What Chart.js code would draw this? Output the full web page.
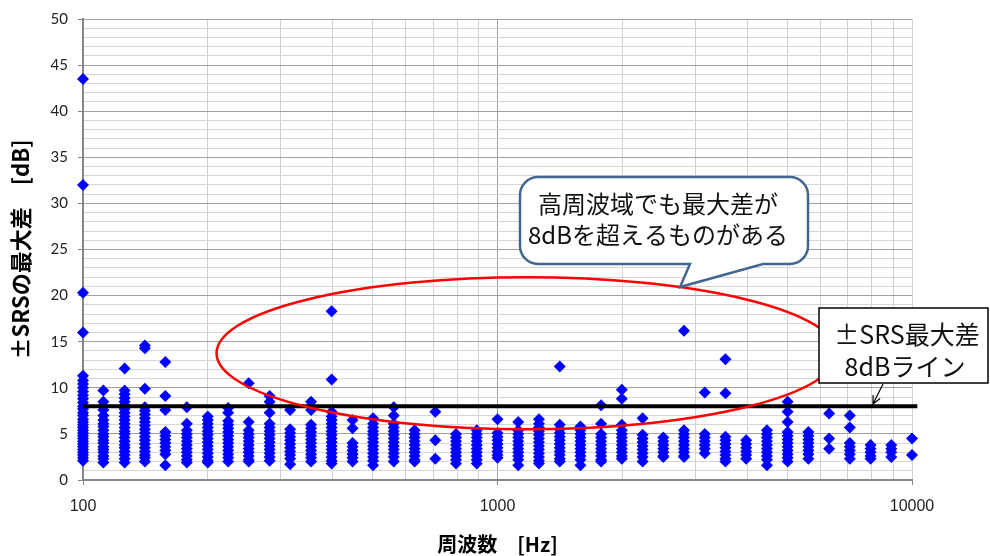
<!DOCTYPE html>
<html>
<head>
<meta charset="utf-8">
<script src="https://cdn.jsdelivr.net/npm/chart.js@4/dist/chart.umd.min.js"></script>
<style>
  html, body { margin: 0; padding: 0; background: #ffffff; }
  #wrap { width: 990px; height: 556px; position: relative; }
  canvas { display: block; }
</style>
</head>
<body>
<div id="wrap"><canvas id="c" width="990" height="556"></canvas></div>
<script>
// 1/6-octave band centre frequencies [Hz]
const bandFreqs = [
  100, 112, 126, 141, 158, 178, 200, 224, 251, 282,
  316, 355, 398, 447, 501, 562, 631, 708, 794, 891,
  1000, 1122, 1259, 1413, 1585, 1778, 1995, 2239, 2512, 2818,
  3162, 3548, 3981, 4467, 5012, 5623, 6310, 7079, 7943, 8913,
  10000
];

// Max ±SRS difference [dB] observed in each band (one entry per band above)
const maxDiffByBand = [
  [43.5, 32.0, 20.3, 16.0, 11.3, 10.8, 10.4, 10.0, 9.6, 9.2, 8.8, 8.4, 8.0, 7.7, 7.3, 7.0, 6.6, 6.3, 6.0, 5.7, 5.4, 5.1, 4.8, 4.5, 4.2, 3.9, 3.6, 3.3, 3.0, 2.7, 2.4, 2.1],
  [9.7, 8.5, 8.0, 7.6, 7.0, 6.5, 6.1, 5.8, 5.4, 5.0, 4.7, 4.3, 4.0, 3.6, 3.3, 3.0, 2.6, 2.3, 1.9],
  [12.1, 9.7, 9.3, 8.9, 8.5, 8.1, 7.7, 7.3, 6.9, 6.5, 6.1, 5.7, 5.3, 5.0, 4.6, 4.2, 3.8, 3.5, 3.1, 2.7, 2.3, 1.9],
  [14.6, 14.3, 9.9, 7.9, 7.5, 7.1, 6.7, 6.3, 5.9, 5.5, 5.1, 4.7, 4.3, 3.9, 3.5, 3.1, 2.7, 2.4, 2.0],
  [12.8, 9.1, 7.6, 5.2, 4.8, 4.4, 4.0, 3.6, 3.2, 2.8, 1.6],
  [7.9, 6.1, 5.4, 5.0, 4.6, 4.2, 3.8, 3.4, 3.0, 2.6, 2.2, 1.9],
  [6.9, 6.5, 6.1, 5.7, 5.3, 4.9, 4.5, 4.1, 3.7, 3.3, 2.9, 2.5, 2.1, 1.9],
  [7.8, 7.3, 6.4, 6.0, 5.6, 5.2, 4.8, 4.4, 4.0, 3.6, 3.2, 2.8, 2.4, 2.0],
  [10.5, 6.3, 5.4, 5.0, 4.6, 4.2, 3.8, 3.4, 3.0, 2.6, 2.2, 2.0],
  [9.1, 8.5, 7.3, 6.1, 5.7, 5.3, 4.9, 4.5, 4.1, 3.7, 3.3, 2.9, 2.5, 2.1],
  [7.6, 5.5, 5.1, 4.7, 4.3, 3.9, 3.5, 3.1, 2.7, 2.3, 1.7],
  [8.5, 7.6, 6.0, 5.6, 5.2, 4.8, 4.4, 4.0, 3.6, 3.2, 2.8, 2.4, 2.0],
  [18.3, 10.9, 7.4, 6.9, 6.5, 6.1, 5.7, 5.3, 4.9, 4.5, 4.1, 3.7, 3.3, 2.9, 2.5, 2.1, 1.8],
  [6.5, 5.6, 4.0, 3.6, 3.2, 2.8, 2.4, 2.0],
  [6.7, 6.1, 5.7, 5.3, 4.9, 4.5, 4.1, 3.7, 3.3, 2.9, 2.5, 2.1, 1.6],
  [7.9, 7.0, 6.1, 5.7, 5.3, 4.9, 4.5, 4.1, 3.7, 3.3, 2.9, 2.5, 2.0],
  [5.4, 5.0, 4.6, 4.2, 3.8, 3.4, 3.0, 2.6, 2.2, 2.0],
  [7.4, 4.3, 2.3],
  [5.0, 4.6, 4.2, 3.8, 3.4, 3.0, 2.6, 2.2, 1.8],
  [5.4, 5.0, 4.6, 4.2, 3.8, 3.4, 3.0, 2.6, 2.2, 1.8],
  [6.6, 5.1, 4.7, 4.3, 3.9, 3.5, 3.1, 2.7, 2.4],
  [6.3, 5.4, 5.0, 4.6, 4.2, 3.8, 3.4, 3.0, 2.6, 2.2, 1.6],
  [6.6, 6.1, 5.7, 5.3, 4.9, 4.5, 4.1, 3.7, 3.3, 2.9, 2.5, 2.1, 1.8],
  [12.3, 6.0, 5.5, 5.1, 4.7, 4.3, 3.9, 3.5, 3.1, 2.7, 2.3, 2.0],
  [5.8, 5.4, 5.0, 4.6, 4.2, 3.8, 3.4, 3.0, 2.6, 2.2, 1.6],
  [8.1, 6.1, 5.0, 4.6, 4.2, 3.8, 3.4, 3.0, 2.6, 2.2, 2.0],
  [9.8, 8.8, 6.0, 5.4, 5.0, 4.6, 4.2, 3.8, 3.4, 3.0, 2.6, 2.3],
  [6.7, 4.9, 4.5, 4.1, 3.7, 3.3, 2.9, 2.5, 2.0],
  [4.6, 4.2, 3.8, 3.4, 3.0, 2.6, 2.5],
  [16.2, 5.4, 5.0, 4.6, 4.2, 3.8, 3.4, 3.0, 2.6, 2.5],
  [9.5, 5.0, 4.6, 4.2, 3.8, 3.4, 2.9],
  [13.1, 9.4, 4.7, 4.3, 3.9, 3.5, 3.1, 2.7, 2.3, 2.0],
  [4.3, 3.9, 3.5, 3.1, 2.7, 2.3],
  [5.4, 5.0, 4.6, 4.2, 3.8, 3.4, 3.0, 2.6, 2.2, 1.6],
  [8.5, 7.4, 6.3, 5.2, 4.8, 4.4, 4.0, 3.6, 3.2, 2.8, 2.4, 2.0],
  [5.2, 4.8, 4.4, 4.0, 3.6, 3.2, 2.8, 2.3],
  [7.2, 4.5, 3.4],
  [7.0, 5.7, 4.0, 3.6, 3.2, 2.8, 2.3],
  [3.8, 3.4, 3.0, 2.6, 2.3],
  [3.8, 3.4, 3.0, 2.5],
  [4.5, 2.7]
];

// ±SRS max-difference limit line
const limitLevel = 8;
const limitFreqRange = [100, 10300];

// Axis labelling
const xTickLabels = [100, 1000, 10000];
const yTickLabels = [0, 5, 10, 15, 20, 25, 30, 35, 40, 45, 50];
const xTitle = '周波数　[Hz]';
const yTitle = '±SRSの最大差　[dB]';

// Callout texts
const noteHighBand = ['高周波域でも最大差が', '8dBを超えるものがある'];
const noteLimit = ['±SRS最大差', '8dBライン'];

// ---- build datasets from the arrays above ----
const scatterPoints = [];
bandFreqs.forEach((f, i) => {
  maxDiffByBand[i].forEach(v => scatterPoints.push({ x: f, y: v }));
});
const limitPoints = limitFreqRange.map(f => ({ x: f, y: limitLevel }));

// log grid positions: 1..9 in each decade
const logGrid = [];
for (let d = 100; d < 10000; d *= 10) {
  for (let m = 1; m <= 9; m++) logGrid.push(m * d);
}
logGrid.push(10000);

const JP = '"Noto Sans CJK JP", "Noto Sans", sans-serif';

// Annotation geometry
const ellipseRange = { fMin: 210, fMax: 6600, dbMin: 5.5, dbMax: 22.0 };
const bubbleBox = { x0: 520, y0: 177, x1: 808, y1: 264, r: 18, tailA: 690, tailB: 763, tipX: 680, tipY: 287 };
const limitBox = { x0: 819, y0: 308, x1: 988, y1: 383 };
const limitArrow = { x0: 883, y0: 384, f: 8050, db: 8.25 };

const annotationPlugin = {
  id: 'notes',
  afterDatasetsDraw(chart) {
    const ctx = chart.ctx;
    const xs = chart.scales.x, ys = chart.scales.y;
    ctx.save();

    // red ellipse around the high-band exceedances
    const ex0 = xs.getPixelForValue(ellipseRange.fMin);
    const ex1 = xs.getPixelForValue(ellipseRange.fMax);
    const ey0 = ys.getPixelForValue(ellipseRange.dbMax);
    const ey1 = ys.getPixelForValue(ellipseRange.dbMin);
    ctx.beginPath();
    ctx.ellipse((ex0 + ex1) / 2, (ey0 + ey1) / 2, (ex1 - ex0) / 2, (ey1 - ey0) / 2, 0, 0, Math.PI * 2);
    ctx.strokeStyle = '#ff0000';
    ctx.lineWidth = 2.5;
    ctx.stroke();

    // speech bubble
    const b = bubbleBox;
    ctx.beginPath();
    ctx.moveTo(b.x0 + b.r, b.y0);
    ctx.lineTo(b.x1 - b.r, b.y0);
    ctx.arcTo(b.x1, b.y0, b.x1, b.y0 + b.r, b.r);
    ctx.lineTo(b.x1, b.y1 - b.r);
    ctx.arcTo(b.x1, b.y1, b.x1 - b.r, b.y1, b.r);
    ctx.lineTo(b.tailB, b.y1);
    ctx.lineTo(b.tipX, b.tipY);
    ctx.lineTo(b.tailA, b.y1);
    ctx.lineTo(b.x0 + b.r, b.y1);
    ctx.arcTo(b.x0, b.y1, b.x0, b.y1 - b.r, b.r);
    ctx.lineTo(b.x0, b.y0 + b.r);
    ctx.arcTo(b.x0, b.y0, b.x0 + b.r, b.y0, b.r);
    ctx.closePath();
    ctx.fillStyle = '#ffffff';
    ctx.fill();
    ctx.strokeStyle = '#41668f';
    ctx.lineWidth = 2.5;
    ctx.stroke();

    ctx.fillStyle = '#111111';
    ctx.font = '24px ' + JP;
    ctx.textAlign = 'center';
    ctx.textBaseline = 'middle';
    ctx.fillText(noteHighBand[0], 658, 204);
    ctx.fillText(noteHighBand[1], 658, 235);

    // limit-line label box
    const L = limitBox;
    ctx.fillStyle = '#ffffff';
    ctx.fillRect(L.x0, L.y0, L.x1 - L.x0, L.y1 - L.y0);
    ctx.strokeStyle = '#000000';
    ctx.lineWidth = 1.5;
    ctx.strokeRect(L.x0, L.y0, L.x1 - L.x0, L.y1 - L.y0);
    ctx.fillStyle = '#111111';
    ctx.font = '25px ' + JP;
    ctx.fillText(noteLimit[0], 907, 334);
    ctx.fillText(noteLimit[1], 905, 366);

    // pointer to the limit line
    const tx = xs.getPixelForValue(limitArrow.f);
    const ty = ys.getPixelForValue(limitArrow.db);
    const ang = Math.atan2(ty - limitArrow.y0, tx - limitArrow.x0);
    const head = 9, spread = 0.45;
    ctx.beginPath();
    ctx.moveTo(limitArrow.x0, limitArrow.y0);
    ctx.lineTo(tx, ty);
    ctx.moveTo(tx - head * Math.cos(ang - spread), ty - head * Math.sin(ang - spread));
    ctx.lineTo(tx, ty);
    ctx.lineTo(tx - head * Math.cos(ang + spread), ty - head * Math.sin(ang + spread));
    ctx.strokeStyle = '#000000';
    ctx.lineWidth = 1.2;
    ctx.stroke();

    ctx.restore();
  }
};

new Chart(document.getElementById('c'), {
  type: 'scatter',
  data: {
    datasets: [
      {
        type: 'line',
        data: limitPoints,
        borderColor: '#000000',
        borderWidth: 4,
        pointRadius: 0,
        fill: false,
        clip: false,
        order: 0
      },
      {
        type: 'scatter',
        data: scatterPoints,
        pointStyle: 'rectRot',
        pointRadius: 6,
        pointBackgroundColor: '#0000ff',
        pointBorderColor: '#0000ff',
        pointBorderWidth: 0,
        clip: false,
        order: 1
      }
    ]
  },
  options: {
    responsive: false,
    devicePixelRatio: 1,
    animation: false,
    layout: { padding: { left: 0, top: 18, right: 78, bottom: 0 } },
    plugins: { legend: { display: false }, tooltip: { enabled: false } },
    scales: {
      x: {
        type: 'logarithmic',
        position: 'bottom',
        min: 100,
        max: 10000,
        afterBuildTicks: s => { s.ticks = logGrid.map(v => ({ value: v })); },
        afterFit: s => { s.height = 76; },
        ticks: {
          autoSkip: false,
          maxRotation: 0,
          padding: 12,
          color: '#222222',
          font: { family: '"Liberation Sans Narrow", "Liberation Sans", sans-serif', size: 16 },
          callback: v => (xTickLabels.includes(v) ? String(v) : '')
        },
        grid: {
          color: c => (c.tick && c.tick.value === 1000 ? '#a0a0a0' : '#d2d2d2'),
          lineWidth: 1,
          tickLength: 5,
          tickColor: c => (c.tick && xTickLabels.includes(c.tick.value) ? '#868686' : 'rgba(0,0,0,0)')
        },
        border: { color: '#868686', width: 2 },
        title: {
          display: true,
          text: xTitle,
          color: '#000000',
          font: { family: JP, size: 20, weight: 'bold' },
          padding: { top: 6, bottom: 0 }
        }
      },
      y: {
        type: 'linear',
        min: 0,
        max: 50,
        afterFit: s => { s.width = 83; },
        ticks: {
          stepSize: 1,
          autoSkip: false,
          padding: 10,
          color: '#222222',
          font: { family: 'Lato, "Open Sans", sans-serif', size: 15 },
          callback: v => (yTickLabels.includes(v) ? String(v) : '')
        },
        grid: {
          color: c => (c.tick && c.tick.value % 5 === 0 ? '#a0a0a0' : '#d6d6d6'),
          lineWidth: 1,
          tickLength: 5,
          tickColor: c => (c.tick && c.tick.value % 5 === 0 ? '#868686' : 'rgba(0,0,0,0)')
        },
        border: { color: '#868686', width: 2 },
        title: {
          display: true,
          text: yTitle,
          color: '#000000',
          font: { family: JP, size: 22, weight: 'bold' },
          padding: { top: 7, bottom: 0 }
        }
      }
    }
  },
  plugins: [annotationPlugin]
});
</script>
</body>
</html>
